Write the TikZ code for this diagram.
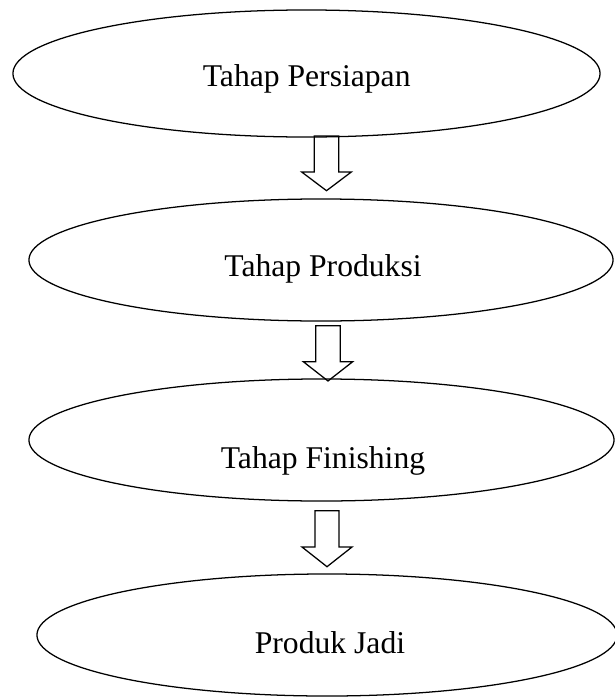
\documentclass[tikz,border=0pt]{standalone}
\usepackage{fontspec}
\setmainfont{Liberation Serif}
\usetikzlibrary{shapes.geometric}
\tikzset{tahap/.append style={draw,ellipse,line width=0.9pt,inner sep=0pt,minimum width=14.6cm,minimum height=3.05cm}}
\tikzset{teks/.append style={anchor=base,font=\fontsize{22.5}{27}\selectfont}}
\tikzset{blok/.append style={draw,line width=0.9pt,line join=miter}}

\begin{document}
\begin{tikzpicture}[x=0.025cm,y=-0.025cm]
                \useasboundingbox (0,0) rectangle (614,697);
                % tahap
                \node[tahap,minimum width=14.675cm,minimum height=3.175cm] (e1) at (306.5,73.5) {};
                \node[tahap] (e2) at (321,260) {};
                \node[tahap,minimum width=14.625cm] (e3) at (321.5,440) {};
                \node[tahap,minimum width=14.5cm] (e4) at (327,635) {};
                \node[teks] (t1) at (306.7,86.7) {Tahap Persiapan};
                \node[teks] (t2) at (323,276) {Tahap Produksi};
                \node[teks] (t3) at (323,468) {Tahap Finishing};
                \node[teks] (t4) at (330,653) {Produk Jadi};
                % panah
                \coordinate (a1) at (326.5,136);
                \coordinate (b1) at (326.5,190.7);
                \coordinate (a2) at (328,325.7);
                \coordinate (b2) at (328,381);
                \coordinate (a3) at (327,510.7);
                \coordinate (b3) at (327,566.7);
                \draw[blok] (a1) ++(-12.3,0) -- ++(24.6,0) -- ++(0,36) -- ++(12.5,0) -- (b1) -- ++(-24.8,-18.7) -- ++(12.5,0) -- cycle;
                \draw[blok] (a2) ++(-12.3,0) -- ++(24.6,0) -- ++(0,36) -- ++(12.4,0) -- (b2) -- ++(-24.7,-19.3) -- ++(12.4,0) -- cycle;
                \draw[blok] (a3) ++(-12,0) -- ++(24,0) -- ++(0,36.3) -- ++(13,0) -- (b3) -- ++(-25,-19.7) -- ++(13,0) -- cycle;
            \end{tikzpicture}
\end{document}
